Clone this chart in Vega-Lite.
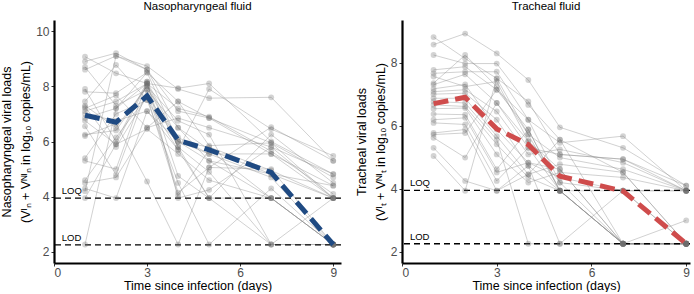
{
 "$schema": "https://vega.github.io/schema/vega-lite/v6.json",
 "padding": {"left": 0, "top": 0, "right": 0, "bottom": 0},
 "background": "white",
 "config": {
  "font": "Liberation Sans",
  "view": {"stroke": null},
  "axis": {"grid": false, "domainColor": "#000", "domainWidth": 2.2, "tickColor": "#333", "tickSize": 3, "labelColor": "#4d4d4d", "labelFontSize": 12, "titleFontSize": 12.5, "titleFontWeight": "normal", "titleColor": "#000", "labelFont": "Liberation Sans", "titleFont": "Liberation Sans"},
  "title": {"fontSize": 11.5, "fontWeight": "normal", "font": "Liberation Sans", "offset": 8, "color": "#000"}
 },
 "spacing": 11,
 "datasets": {
  "limits": [{"lab": "LOQ", "v": 3.95}, {"lab": "LOD", "v": 2.26}],
  "nasoMean": [{"d":1,"v":6.95},{"d":2,"v":6.7},{"d":3,"v":7.65},{"d":4,"v":6.05},{"d":5,"v":5.7},{"d":7,"v":4.88},{"d":9,"v":2.27}],
  "trachMean": [{"d":1,"v":6.7},{"d":2,"v":6.9},{"d":3,"v":5.9},{"d":4,"v":5.4},{"d":5,"v":4.4},{"d":7,"v":3.93},{"d":9,"v":2.26}],
  "naso": [
   {"s":"N1","d":1,"v":9.07},{"s":"N1","d":2,"v":8.47},{"s":"N1","d":3,"v":8.1},{"s":"N1","d":4,"v":7.93},{"s":"N1","d":5,"v":8.1},{"s":"N1","d":7,"v":6.0},{"s":"N1","d":9,"v":4.82},
   {"s":"N2","d":1,"v":8.9},{"s":"N2","d":2,"v":9.2},{"s":"N2","d":3,"v":8.6},{"s":"N2","d":4,"v":7.1},{"s":"N2","d":5,"v":6.85},{"s":"N2","d":7,"v":5.55},{"s":"N2","d":9,"v":4.4},
   {"s":"N3","d":1,"v":8.7},{"s":"N3","d":2,"v":7.3},{"s":"N3","d":3,"v":7.87},{"s":"N3","d":4,"v":6.5},{"s":"N3","d":5,"v":5.7},{"s":"N3","d":7,"v":4.82},{"s":"N3","d":9,"v":3.95},
   {"s":"N4","d":1,"v":8.6},{"s":"N4","d":2,"v":9.1},{"s":"N4","d":3,"v":8.73},{"s":"N4","d":4,"v":7.9},{"s":"N4","d":5,"v":7.57},{"s":"N4","d":7,"v":7.6},{"s":"N4","d":9,"v":5.3},
   {"s":"N5","d":1,"v":7.9},{"s":"N5","d":2,"v":6.0},{"s":"N5","d":3,"v":8.17},{"s":"N5","d":4,"v":6.0},{"s":"N5","d":5,"v":5.3},{"s":"N5","d":7,"v":3.95},{"s":"N5","d":9,"v":2.27},
   {"s":"N6","d":1,"v":7.8},{"s":"N6","d":2,"v":7.75},{"s":"N6","d":3,"v":8.5},{"s":"N6","d":4,"v":7.45},{"s":"N6","d":5,"v":5.85},{"s":"N6","d":7,"v":5.95},{"s":"N6","d":9,"v":4.7},
   {"s":"N7","d":1,"v":7.45},{"s":"N7","d":2,"v":8.77},{"s":"N7","d":3,"v":7.5},{"s":"N7","d":4,"v":5.7},{"s":"N7","d":5,"v":7.9},{"s":"N7","d":7,"v":6.45},{"s":"N7","d":9,"v":5.48},
   {"s":"N8","d":1,"v":7.3},{"s":"N8","d":2,"v":6.5},{"s":"N8","d":3,"v":8.0},{"s":"N8","d":4,"v":5.8},{"s":"N8","d":5,"v":4.9},{"s":"N8","d":7,"v":2.27},{"s":"N8","d":9,"v":2.27},
   {"s":"N9","d":1,"v":7.25},{"s":"N9","d":2,"v":5.8},{"s":"N9","d":3,"v":7.63},{"s":"N9","d":4,"v":6.15},{"s":"N9","d":5,"v":5.55},{"s":"N9","d":7,"v":4.7},{"s":"N9","d":9,"v":2.27},
   {"s":"N10","d":1,"v":7.2},{"s":"N10","d":2,"v":7.67},{"s":"N10","d":3,"v":6.5},{"s":"N10","d":4,"v":6.85},{"s":"N10","d":5,"v":6.5},{"s":"N10","d":7,"v":5.8},{"s":"N10","d":9,"v":3.95},
   {"s":"N11","d":1,"v":7.1},{"s":"N11","d":2,"v":7.45},{"s":"N11","d":3,"v":8.1},{"s":"N11","d":4,"v":4.75},{"s":"N11","d":5,"v":3.95},{"s":"N11","d":7,"v":6.25},{"s":"N11","d":9,"v":4.5},
   {"s":"N12","d":1,"v":7.0},{"s":"N12","d":2,"v":6.75},{"s":"N12","d":3,"v":7.1},{"s":"N12","d":4,"v":6.0},{"s":"N12","d":5,"v":5.8},{"s":"N12","d":7,"v":4.95},{"s":"N12","d":9,"v":3.95},
   {"s":"N13","d":1,"v":6.85},{"s":"N13","d":2,"v":7.2},{"s":"N13","d":3,"v":8.1},{"s":"N13","d":4,"v":7.2},{"s":"N13","d":5,"v":6.9},{"s":"N13","d":7,"v":5.65},{"s":"N13","d":9,"v":4.1},
   {"s":"N14","d":1,"v":6.75},{"s":"N14","d":2,"v":5.9},{"s":"N14","d":3,"v":6.45},{"s":"N14","d":4,"v":5.55},{"s":"N14","d":5,"v":4.6},{"s":"N14","d":7,"v":3.95},{"s":"N14","d":9,"v":2.27},
   {"s":"N15","d":1,"v":6.55},{"s":"N15","d":2,"v":4.8},{"s":"N15","d":3,"v":7.87},{"s":"N15","d":4,"v":4.15},{"s":"N15","d":5,"v":5.06},{"s":"N15","d":7,"v":5.0},{"s":"N15","d":9,"v":2.27},
   {"s":"N16","d":1,"v":6.25},{"s":"N16","d":2,"v":6.4},{"s":"N16","d":3,"v":8.0},{"s":"N16","d":4,"v":6.75},{"s":"N16","d":5,"v":6.25},{"s":"N16","d":7,"v":2.27},{"s":"N16","d":9,"v":3.95},
   {"s":"N17","d":1,"v":6.2},{"s":"N17","d":2,"v":6.65},{"s":"N17","d":3,"v":4.55},{"s":"N17","d":4,"v":2.27},{"s":"N17","d":5,"v":5.06},{"s":"N17","d":7,"v":6.52},{"s":"N17","d":9,"v":5.3},
   {"s":"N18","d":1,"v":5.4},{"s":"N18","d":2,"v":7.0},{"s":"N18","d":3,"v":7.5},{"s":"N18","d":4,"v":4.5},{"s":"N18","d":5,"v":2.27},{"s":"N18","d":7,"v":4.3},{"s":"N18","d":9,"v":2.27},
   {"s":"N19","d":1,"v":5.3},{"s":"N19","d":2,"v":5.0},{"s":"N19","d":3,"v":8.17},{"s":"N19","d":4,"v":3.95},{"s":"N19","d":5,"v":4.25},{"s":"N19","d":7,"v":5.8},{"s":"N19","d":9,"v":4.82},
   {"s":"N20","d":1,"v":4.6},{"s":"N20","d":2,"v":6.15},{"s":"N20","d":3,"v":7.63},{"s":"N20","d":4,"v":4.05},{"s":"N20","d":5,"v":5.7},{"s":"N20","d":7,"v":3.95},{"s":"N20","d":9,"v":2.27},
   {"s":"N21","d":1,"v":4.5},{"s":"N21","d":2,"v":4.7},{"s":"N21","d":3,"v":6.5},{"s":"N21","d":4,"v":7.45},{"s":"N21","d":5,"v":6.85},{"s":"N21","d":7,"v":5.95},{"s":"N21","d":9,"v":3.95},
   {"s":"N22","d":1,"v":4.3},{"s":"N22","d":2,"v":3.95},{"s":"N22","d":3,"v":7.1},{"s":"N22","d":4,"v":5.7},{"s":"N22","d":5,"v":3.95},{"s":"N22","d":7,"v":2.27},{"s":"N22","d":9,"v":2.27},
   {"s":"N23","d":1,"v":4.2},{"s":"N23","d":2,"v":9.1},{"s":"N23","d":3,"v":8.6},{"s":"N23","d":4,"v":6.5},{"s":"N23","d":5,"v":5.3},{"s":"N23","d":7,"v":4.82},{"s":"N23","d":9,"v":4.4},
   {"s":"N24","d":1,"v":3.95},{"s":"N24","d":2,"v":5.9},{"s":"N24","d":3,"v":8.1},{"s":"N24","d":4,"v":5.8},{"s":"N24","d":5,"v":3.95},{"s":"N24","d":7,"v":3.95},{"s":"N24","d":9,"v":2.27},
   {"s":"N25","d":1,"v":2.27},{"s":"N25","d":2,"v":7.2},{"s":"N25","d":3,"v":8.5},{"s":"N25","d":4,"v":6.0},{"s":"N25","d":5,"v":5.55},{"s":"N25","d":7,"v":5.55},{"s":"N25","d":9,"v":3.95}
  ],
  "trach": [
   {"s":"T1","d":1,"v":8.81},{"s":"T1","d":2,"v":8.13},{"s":"T1","d":3,"v":7.5},{"s":"T1","d":4,"v":6.77},{"s":"T1","d":5,"v":5.09},{"s":"T1","d":7,"v":4.94},{"s":"T1","d":9,"v":3.94},
   {"s":"T2","d":1,"v":8.57},{"s":"T2","d":2,"v":8.92},{"s":"T2","d":3,"v":8.29},{"s":"T2","d":4,"v":7.45},{"s":"T2","d":5,"v":5.95},{"s":"T2","d":7,"v":5.3},{"s":"T2","d":9,"v":4.1},
   {"s":"T3","d":1,"v":8.24},{"s":"T3","d":2,"v":7.97},{"s":"T3","d":3,"v":7.97},{"s":"T3","d":4,"v":6.66},{"s":"T3","d":5,"v":5.56},{"s":"T3","d":7,"v":2.26},{"s":"T3","d":9,"v":2.26},
   {"s":"T4","d":1,"v":7.77},{"s":"T4","d":2,"v":7.87},{"s":"T4","d":3,"v":7.14},{"s":"T4","d":4,"v":5.88},{"s":"T4","d":5,"v":3.94},{"s":"T4","d":7,"v":2.26},{"s":"T4","d":9,"v":2.26},
   {"s":"T5","d":1,"v":7.66},{"s":"T5","d":2,"v":7.71},{"s":"T5","d":3,"v":7.71},{"s":"T5","d":4,"v":6.19},{"s":"T5","d":5,"v":5.46},{"s":"T5","d":7,"v":5.67},{"s":"T5","d":9,"v":3.94},
   {"s":"T6","d":1,"v":7.56},{"s":"T6","d":2,"v":7.24},{"s":"T6","d":3,"v":7.4},{"s":"T6","d":4,"v":5.51},{"s":"T6","d":5,"v":4.2},{"s":"T6","d":7,"v":2.26},{"s":"T6","d":9,"v":2.26},
   {"s":"T7","d":1,"v":7.35},{"s":"T7","d":2,"v":8.24},{"s":"T7","d":3,"v":7.24},{"s":"T7","d":4,"v":5.72},{"s":"T7","d":5,"v":4.99},{"s":"T7","d":7,"v":4.62},{"s":"T7","d":9,"v":3.94},
   {"s":"T8","d":1,"v":7.3},{"s":"T8","d":2,"v":7.63},{"s":"T8","d":3,"v":6.72},{"s":"T8","d":4,"v":5.3},{"s":"T8","d":5,"v":3.94},{"s":"T8","d":7,"v":3.94},{"s":"T8","d":9,"v":2.26},
   {"s":"T9","d":1,"v":7.17},{"s":"T9","d":2,"v":7.31},{"s":"T9","d":3,"v":5.88},{"s":"T9","d":4,"v":4.83},{"s":"T9","d":5,"v":4.62},{"s":"T9","d":7,"v":2.26},{"s":"T9","d":9,"v":2.26},
   {"s":"T10","d":1,"v":7.08},{"s":"T10","d":2,"v":7.14},{"s":"T10","d":3,"v":6.45},{"s":"T10","d":4,"v":5.09},{"s":"T10","d":5,"v":5.25},{"s":"T10","d":7,"v":4.83},{"s":"T10","d":9,"v":3.94},
   {"s":"T11","d":1,"v":7.0},{"s":"T11","d":2,"v":7.03},{"s":"T11","d":3,"v":6.19},{"s":"T11","d":4,"v":4.73},{"s":"T11","d":5,"v":3.94},{"s":"T11","d":7,"v":2.26},{"s":"T11","d":9,"v":3.0},
   {"s":"T12","d":1,"v":6.87},{"s":"T12","d":2,"v":6.87},{"s":"T12","d":3,"v":5.67},{"s":"T12","d":4,"v":4.46},{"s":"T12","d":5,"v":4.78},{"s":"T12","d":7,"v":4.52},{"s":"T12","d":9,"v":2.26},
   {"s":"T13","d":1,"v":6.77},{"s":"T13","d":2,"v":6.72},{"s":"T13","d":3,"v":5.56},{"s":"T13","d":4,"v":2.26},{"s":"T13","d":5,"v":2.26},{"s":"T13","d":7,"v":3.94},{"s":"T13","d":9,"v":2.26},
   {"s":"T14","d":1,"v":6.66},{"s":"T14","d":2,"v":6.61},{"s":"T14","d":3,"v":5.41},{"s":"T14","d":4,"v":4.36},{"s":"T14","d":5,"v":3.94},{"s":"T14","d":7,"v":2.26},{"s":"T14","d":9,"v":2.26},
   {"s":"T15","d":1,"v":6.54},{"s":"T15","d":2,"v":6.56},{"s":"T15","d":3,"v":5.09},{"s":"T15","d":4,"v":4.2},{"s":"T15","d":5,"v":4.52},{"s":"T15","d":7,"v":4.36},{"s":"T15","d":9,"v":3.94},
   {"s":"T16","d":1,"v":6.37},{"s":"T16","d":2,"v":6.35},{"s":"T16","d":3,"v":4.62},{"s":"T16","d":4,"v":5.88},{"s":"T16","d":5,"v":3.94},{"s":"T16","d":7,"v":2.26},{"s":"T16","d":9,"v":2.26},
   {"s":"T17","d":1,"v":6.19},{"s":"T17","d":2,"v":6.25},{"s":"T17","d":3,"v":4.52},{"s":"T17","d":4,"v":4.83},{"s":"T17","d":5,"v":4.36},{"s":"T17","d":7,"v":3.94},{"s":"T17","d":9,"v":3.94},
   {"s":"T18","d":1,"v":6.09},{"s":"T18","d":2,"v":6.04},{"s":"T18","d":3,"v":4.25},{"s":"T18","d":4,"v":5.3},{"s":"T18","d":5,"v":5.09},{"s":"T18","d":7,"v":4.94},{"s":"T18","d":9,"v":4.1},
   {"s":"T19","d":1,"v":5.77},{"s":"T19","d":2,"v":5.88},{"s":"T19","d":3,"v":3.94},{"s":"T19","d":4,"v":4.73},{"s":"T19","d":5,"v":2.26},{"s":"T19","d":7,"v":2.26},{"s":"T19","d":9,"v":2.26},
   {"s":"T20","d":1,"v":5.72},{"s":"T20","d":2,"v":5.77},{"s":"T20","d":3,"v":7.14},{"s":"T20","d":4,"v":6.19},{"s":"T20","d":5,"v":4.2},{"s":"T20","d":7,"v":3.94},{"s":"T20","d":9,"v":3.94},
   {"s":"T21","d":1,"v":5.62},{"s":"T21","d":2,"v":4.99},{"s":"T21","d":3,"v":6.72},{"s":"T21","d":4,"v":5.51},{"s":"T21","d":5,"v":4.62},{"s":"T21","d":7,"v":2.26},{"s":"T21","d":9,"v":2.26},
   {"s":"T22","d":1,"v":5.3},{"s":"T22","d":2,"v":4.25},{"s":"T22","d":3,"v":3.94},{"s":"T22","d":4,"v":4.46},{"s":"T22","d":5,"v":5.56},{"s":"T22","d":7,"v":4.52},{"s":"T22","d":9,"v":2.26},
   {"s":"T23","d":1,"v":5.04},{"s":"T23","d":2,"v":3.94},{"s":"T23","d":3,"v":7.5},{"s":"T23","d":4,"v":5.72},{"s":"T23","d":5,"v":3.94},{"s":"T23","d":7,"v":2.26},{"s":"T23","d":9,"v":2.26}
  ]
 },
 "hconcat": [
  {
   "title": "Nasopharyngeal fluid",
   "width": 287, "height": 243,
   "layer": [
    {"data": {"name": "naso"}, "mark": {"type": "line", "color": "#8c8c8c", "strokeWidth": 0.9, "opacity": 0.45},
     "encoding": {
      "x": {"field": "d", "type": "quantitative", "scale": {"domain": [0, 9.25], "nice": false, "zero": false}, "axis": {"values": [0, 3, 6, 9], "title": "Time since infection (days)", "titlePadding": 1.5, "labelPadding": 1}},
      "y": {"field": "v", "type": "quantitative", "scale": {"domain": [1.6, 10.4], "nice": false, "zero": false}, "axis": {"values": [2,3,4,5,6,7,8,9,10], "title": ["Nasopharyngeal viral loads", "(Vᴵₙ + Vᴺᴵₙ in log₁₀ copies/mL)"], "titleLineHeight": 19, "titlePadding": 3}},
      "detail": {"field": "s"}}},
    {"data": {"name": "limits"}, "mark": {"type": "rule", "color": "#000", "strokeWidth": 1.3, "strokeDash": [6, 4]},
     "encoding": {"y": {"field": "v", "type": "quantitative"}}},
    {"data": {"name": "limits"}, "mark": {"type": "text", "align": "left", "baseline": "bottom", "dy": -2, "fontSize": 9.5, "color": "#000"},
     "encoding": {"x": {"datum": 0.25}, "y": {"field": "v", "type": "quantitative"}, "text": {"field": "lab"}}},
    {"data": {"name": "naso"}, "mark": {"type": "point", "filled": true, "color": "#6e6e6e", "opacity": 0.3, "size": 34},
     "encoding": {"x": {"field": "d", "type": "quantitative"}, "y": {"field": "v", "type": "quantitative"}}},
    {"data": {"name": "nasoMean"}, "mark": {"type": "line", "color": "#1f4a82", "strokeWidth": 5, "strokeDash": [15, 7]},
     "encoding": {"x": {"field": "d", "type": "quantitative"}, "y": {"field": "v", "type": "quantitative"}}}
   ]
  },
  {
   "title": "Tracheal fluid",
   "width": 288, "height": 243,
   "layer": [
    {"data": {"name": "trach"}, "mark": {"type": "line", "color": "#8c8c8c", "strokeWidth": 0.9, "opacity": 0.45},
     "encoding": {
      "x": {"field": "d", "type": "quantitative", "scale": {"domain": [0, 9.12], "nice": false, "zero": false}, "axis": {"values": [0, 3, 6, 9], "title": "Time since infection (days)", "titlePadding": 1.5, "labelPadding": 1}},
      "y": {"field": "v", "type": "quantitative", "scale": {"domain": [1.65, 9.35], "nice": false, "zero": false}, "axis": {"values": [2,3,4,5,6,7,8,9], "title": ["Tracheal viral loads", "(Vᴵₜ + Vᴺᴵₜ in log₁₀ copies/mL)"], "titleLineHeight": 19, "titlePadding": 3}},
      "detail": {"field": "s"}}},
    {"data": {"name": "limits"}, "mark": {"type": "rule", "color": "#000", "strokeWidth": 1.3, "strokeDash": [6, 4]},
     "encoding": {"y": {"field": "v", "type": "quantitative"}}},
    {"data": {"name": "limits"}, "mark": {"type": "text", "align": "left", "baseline": "bottom", "dy": -2, "fontSize": 9.5, "color": "#000"},
     "encoding": {"x": {"datum": 0.25}, "y": {"field": "v", "type": "quantitative"}, "text": {"field": "lab"}}},
    {"data": {"name": "trach"}, "mark": {"type": "point", "filled": true, "color": "#6e6e6e", "opacity": 0.3, "size": 34},
     "encoding": {"x": {"field": "d", "type": "quantitative"}, "y": {"field": "v", "type": "quantitative"}}},
    {"data": {"name": "trachMean"}, "mark": {"type": "line", "color": "#cf4c4c", "strokeWidth": 5, "strokeDash": [15, 7]},
     "encoding": {"x": {"field": "d", "type": "quantitative"}, "y": {"field": "v", "type": "quantitative"}}}
   ]
  }
 ]
}
